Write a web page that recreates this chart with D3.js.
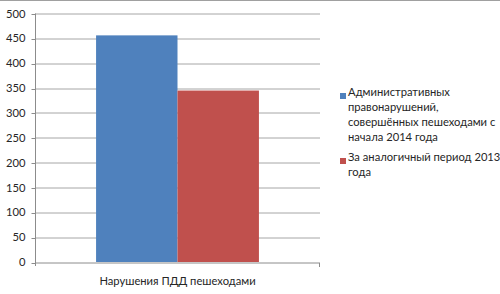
<!DOCTYPE html>
<html>
<head>
<meta charset="utf-8">
<script src="https://cdn.jsdelivr.net/npm/d3@7"></script>
<style>
  body { margin: 0; background: #fff; }
  text { font-family: Lato, sans-serif; fill: #262626; }
</style>
</head>
<body>
<div id="chart"></div>
<script>
// data
const categories = ["Нарушения ПДД пешеходами"];
const seriesNames = [
    ["Административных", "правонарушений,", "совершённых пешеходами с", "начала 2014 года"],
    ["За аналогичный период 2013", "года"]
];
const values2014 = [456];
const values2013 = [345];
const yTicks = [0, 50, 100, 150, 200, 250, 300, 350, 400, 450, 500];
const colors = ["#4f81bd", "#c0504d"];

const W = 500, H = 294;
const fontSize = "11.2px";
const margin = { top: 13.5, right: 180, bottom: 32, left: 35 },
    width = W - margin.left - margin.right,
    height = H - margin.top - margin.bottom;

const root = d3.select("#chart").append("svg")
    .attr("width", W)
    .attr("height", H);

// top border line
root.append("line")
    .attr("x1", 0).attr("x2", W).attr("y1", 0.5).attr("y2", 0.5)
    .attr("stroke", "#a0a0a0");

const svg = root.append("g")
    .attr("transform", `translate(${margin.left},${margin.top})`);

const y = d3.scaleLinear().domain([0, 500]).range([height, 0]);
const x = d3.scaleBand().domain(categories).range([0, width]).paddingInner(0).paddingOuter(0);
const xs = d3.scaleBand().domain([0, 1]).range([0, x.bandwidth()]).paddingInner(0).paddingOuter(0.75);

// gridlines
svg.append("g")
    .selectAll("line")
    .data(yTicks.slice(1))
    .join("line")
    .attr("x1", 0).attr("x2", width)
    .attr("y1", d => Math.round(y(d)) + 0.5)
    .attr("y2", d => Math.round(y(d)) + 0.5)
    .attr("stroke", "#a6a6a6");

// y axis
const yAxis = svg.append("g")
    .attr("transform", "translate(0.5,0)")
    .call(d3.axisLeft(y).tickValues(yTicks).tickSize(4).tickPadding(6));
yAxis.selectAll("line").attr("stroke", "#8c8c8c")
    .attr("transform", d => `translate(0,${Math.round(y(d)) + 0.5 - y(d)})`);
yAxis.select(".domain").attr("stroke", "#8c8c8c").attr("d", `M0,0V${height + 4}`);
yAxis.selectAll("text").style("font-size", fontSize).attr("fill", "#262626")
    .attr("font-family", "Lato");

// bars
const vals = [values2014, values2013];
categories.forEach((c, ci) => {
    svg.append("g")
        .selectAll("rect")
        .data(vals.map((v, i) => ({ i, v: v[ci] })))
        .join("rect")
        .attr("x", d => x(c) + xs(d.i))
        .attr("y", d => y(d.v))
        .attr("width", xs.bandwidth())
        .attr("height", d => height - y(d.v))
        .attr("fill", d => colors[d.i]);
});

// x axis
const xAxis = svg.append("g")
    .attr("transform", `translate(0,${Math.round(height) + 0.5})`)
    .call(d3.axisBottom(x).tickSize(0).tickPadding(14));
xAxis.select(".domain").attr("stroke", "#8c8c8c").attr("d", `M0,0H${width}`);
xAxis.selectAll("text").style("font-size", fontSize).attr("fill", "#262626")
    .attr("font-family", "Lato");
xAxis.append("line")
    .attr("x1", width - 0.5).attr("x2", width - 0.5).attr("y1", 0).attr("y2", 4)
    .attr("stroke", "#8c8c8c");

// legend
const legend = root.append("g").attr("transform", "translate(340,0)");
const legendTop = [96, 161];
seriesNames.forEach((lines, i) => {
    legend.append("rect")
        .attr("x", 0).attr("y", legendTop[i] - 3)
        .attr("width", 6).attr("height", 6)
        .attr("fill", colors[i]);
    legend.append("text")
        .attr("x", 8)
        .attr("y", legendTop[i])
        .attr("dy", "0.35em")
        .style("font-size", fontSize)
        .selectAll("tspan")
        .data(lines)
        .join("tspan")
        .attr("x", 8)
        .attr("dy", (d, k) => k === 0 ? 0 : 15)
        .text(d => d);
});
</script>
</body>
</html>
